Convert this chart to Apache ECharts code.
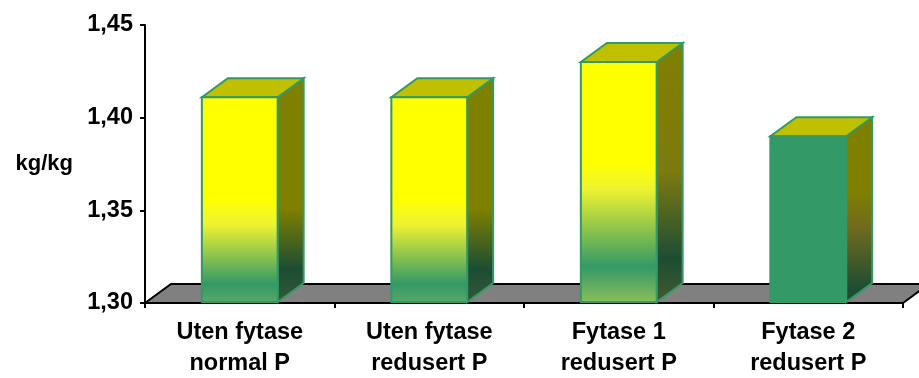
<!DOCTYPE html>
<html><head><meta charset="utf-8">
<style>html,body{margin:0;padding:0;background:#fff}#c{width:919px;height:378px}</style>
<script src="https://cdn.jsdelivr.net/npm/echarts@6/dist/echarts.min.js"></script>
</head><body><div id="c"></div>
<script>
const categories = ['Uten fytase\nnormal P', 'Uten fytase\nredusert P', 'Fytase 1\nredusert P', 'Fytase 2\nredusert P'];
const values = [1.411, 1.411, 1.43, 1.39];
const floorValue = [1.30];
const tickMin = 1.30, tickMax = 1.45, tickStep = 0.05;

const DX = 26, DY = -19, EDGE = '#339966', FONT = '"Liberation Sans", Arial, sans-serif';
function grad(stops){return {type:'linear',x:0,y:0,x2:0,y2:1,colorStops:stops.map(s=>({offset:s[0],color:s[1]}))};}
const frontFill = [
  grad([[0,'#ffff00'],[.5,'#ffff00'],[.62,'#eef232'],[.91,'#339966'],[1,'#5aa866']]),
  grad([[0,'#ffff00'],[.5,'#ffff00'],[.62,'#eef232'],[.91,'#339966'],[1,'#5aa866']]),
  grad([[0,'#ffff00'],[.42,'#ffff00'],[.53,'#eef232'],[.85,'#339966'],[1,'#8cbf5a']]),
  '#339966'
];
const sideFill = [
  grad([[0,'#808000'],[.58,'#808000'],[.85,'#1c4d33'],[1,'#35573a']]),
  grad([[0,'#808000'],[.58,'#808000'],[.85,'#1c4d33'],[1,'#35573a']]),
  grad([[0,'#808000'],[.5,'#7c7a10'],[.83,'#1c4d33'],[1,'#45592f']]),
  grad([[0,'#808000'],[.4,'#808000'],[.6,'#6f6a1e'],[.93,'#1c4d33'],[1,'#1c4d33']])
];

function renderBar(params, api){
  const i = params.dataIndex;
  const top = api.coord([api.value(0), api.value(1)]);
  const base = api.coord([api.value(0), tickMin]);
  const w = api.size([1,0])[0] * 0.4;
  const l = top[0]-w/2, r = top[0]+w/2, t = top[1], b = base[1]-1;
  const st = f => ({fill:f, stroke:EDGE, lineWidth:2, lineJoin:'miter'});
  return {type:'group', children:[
    {type:'polygon', shape:{points:[[r,t],[r+DX,t+DY],[r+DX,b+DY],[r,b]]}, style:st(sideFill[i])},
    {type:'polygon', shape:{points:[[l,t],[l+DX,t+DY],[r+DX,t+DY],[r,t]]}, style:st('#c0c000')},
    {type:'rect', shape:{x:l,y:t,width:r-l,height:b-t}, style:st(frontFill[i])}
  ]};
}
function renderFloor(params, api){
  const g = params.coordSys;
  const y = api.coord([0, api.value(0)])[1];
  const x0 = g.x, x1 = g.x+g.width;
  return {type:'group', silent:true, children:[
    {type:'polygon', shape:{points:[[x0,y],[x0+DX,y+DY],[x1+DX,y+DY],[x1,y]]}, style:{fill:'#808080', stroke:'none'}},
    {type:'polyline', shape:{points:[[x0,y],[x0+DX,y+DY],[x1+DX,y+DY]]}, style:{fill:'none', stroke:'#000', lineWidth:2}},
    {type:'line', shape:{x1:x1,y1:y,x2:x1+DX,y2:y+DY}, style:{stroke:'#000', lineWidth:2}}
  ]};
}
const chart = echarts.init(document.getElementById('c'), null, {renderer:'canvas'});
chart.setOption({
  animation:false,
  backgroundColor:'#fff',
  grid:{left:145, top:25, width:758, height:278, containLabel:false, outerBoundsMode:'none'},
  xAxis:{type:'category', data:categories, z:2,
    axisLine:{lineStyle:{color:'#000', width:2}},
    axisTick:{show:true, alignWithLabel:false, length:5, lineStyle:{color:'#000', width:2}},
    axisLabel:{color:'#000', fontFamily:FONT, fontWeight:'bold', fontSize:23.5, lineHeight:31, margin:14, interval:0, hideOverlap:false}
  },
  yAxis:{type:'value', min:tickMin, max:tickMax, interval:tickStep, z:2,
    name:'kg/kg', nameLocation:'middle', nameRotate:0, nameGap:72,
    nameTextStyle:{color:'#000', fontFamily:FONT, fontWeight:'bold', fontSize:22},
    splitLine:{show:false},
    axisLine:{show:true, lineStyle:{color:'#000', width:2}},
    axisTick:{show:true, length:5, lineStyle:{color:'#000', width:2}},
    axisLabel:{color:'#000', fontFamily:FONT, fontWeight:'bold', fontSize:23.5, margin:12,
      formatter:v=>v.toFixed(2).replace('.',',')}
  },
  series:[
    {type:'custom', z:1, clip:false, renderItem:renderFloor, data:floorValue.map(v=>[v]), encode:{y:0}},
    {type:'custom', z:3, clip:false, renderItem:renderBar, data:values.map((v,i)=>[i,v]), encode:{x:0,y:1}}
  ]
});
</script></body></html>
